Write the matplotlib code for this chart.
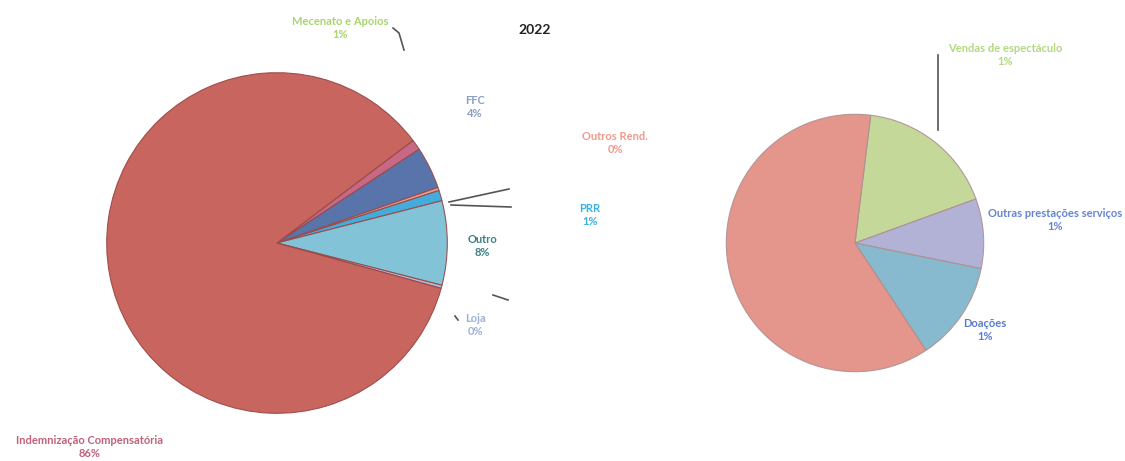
import numpy as np
import matplotlib
matplotlib.use("Agg")
import matplotlib.pyplot as plt
from matplotlib.lines import Line2D

plt.rcParams['font.family'] = ['Lato', 'DejaVu Sans']

title = "2022"

# pie principal (% do total)
main_labels = ["Mecenato e Apoios", "FFC", "Outros Rend.", "PRR", "Outro", "Loja",
               "Indemnização Compensatória"]
main_values = [1.0, 4.0, 0.3, 1.0, 8.0, 0.3, 85.6]
main_colors = ["#c4607e", "#4f6da6", "#e49a8c", "#3aa8d8", "#7cc0d6", "#a9b8d6", "#c65d56"]
main_text_colors = ["#a9d46e", "#8b9cc6", "#f09a8c", "#3ab0e2", "#3d7f84", "#9fb0d2", "#c0607a"]

# pie secundário (parte de "Outro")
sub_labels = ["Vendas de espectáculo", "Outras prestações serviços", "Doações", ""]
sub_values = [1.4, 0.7, 1.0, 4.9]
sub_colors = ["#bdd48e", "#aaaad2", "#7ab3c9", "#e28a80"]
sub_text_colors = ["#b2d880", "#6484d2", "#5a7ad2", "#e28a80"]

W, H = 1125, 461
fig = plt.figure(figsize=(W / 100, H / 100), dpi=100)


def px(x, y):
    return x / W, 1 - y / H


def pie_axes(cx, cy, r):
    return fig.add_axes([(cx - r) / W, (H - cy - r) / H, 2 * r / W, 2 * r / H])


# posições das etiquetas (pixels)
main_label_pos = [(340, 28), (475, 107), (615, 143), (590, 215), (482, 246), (475, 325), (90, 447)]
sub_label_pos = [(1005, 55), (1055, 220), (985, 330), None]

ax1 = pie_axes(277, 243, 172)
tot = sum(main_values)
before = sum(main_values[:4]) + main_values[4] / 2
start = 360 * before / tot
ax1.pie(main_values, colors=main_colors, startangle=start, counterclock=False,
        wedgeprops=dict(edgecolor="#9a4a4a", linewidth=0.8, alpha=0.95))
ax1.set_xlim(-1.01, 1.01)
ax1.set_ylim(-1.01, 1.01)

ax2 = pie_axes(855, 243, 130)
ax2.pie(sub_values, colors=sub_colors, startangle=83, counterclock=False,
        wedgeprops=dict(edgecolor="#b09090", linewidth=0.8, alpha=0.9))
ax2.set_xlim(-1.01, 1.01)
ax2.set_ylim(-1.01, 1.01)

for lab, v, c, p in zip(main_labels, main_values, main_text_colors, main_label_pos):
    x, y = px(*p)
    fig.text(x, y, f"{lab}\n{round(v)}%", color=c, fontsize=8, fontweight="bold",
             ha="center", va="center", linespacing=1.3)

for lab, v, c, p in zip(sub_labels, sub_values, sub_text_colors, sub_label_pos):
    if p is None:
        continue
    x, y = px(*p)
    fig.text(x, y, f"{lab}\n{round(v)}%", color=c, fontsize=8, fontweight="bold",
             ha="center", va="center", linespacing=1.3)

x, y = px(535, 30)
fig.text(x, y, title, fontsize=10, fontweight="bold", color="#222222", ha="center", va="center")

# linhas de chamada
leaders = [
    [(393, 28), (399, 33), (404, 50)],
    [(449, 202), (509, 189)],
    [(451, 205), (511, 207)],
    [(493, 295), (508, 300)],
    [(455, 316), (458, 320)],
    [(938, 55), (938, 130)],
]
for seg in leaders:
    xs = [px(*q)[0] for q in seg]
    ys = [px(*q)[1] for q in seg]
    fig.add_artist(Line2D(xs, ys, color="#555555", linewidth=1.2, transform=fig.transFigure))

fig.savefig("out.png", dpi=100, facecolor="white")
